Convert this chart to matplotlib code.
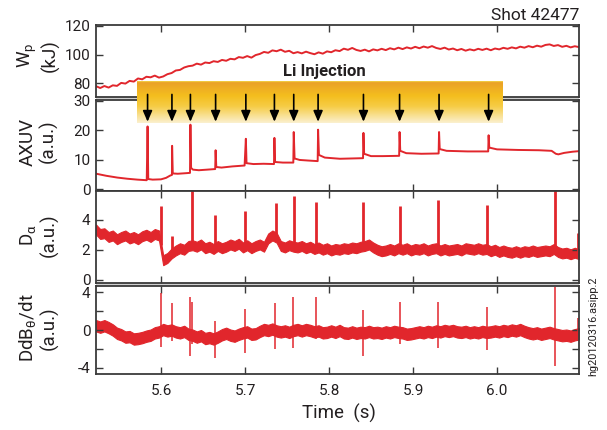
import matplotlib
matplotlib.use("Agg")
import matplotlib.pyplot as plt
import numpy as np
from matplotlib.colors import LinearSegmentedColormap
from matplotlib.patches import Rectangle

plt.rcParams["font.family"] = ["Roboto", "DejaVu Sans"]
plt.rcParams["mathtext.default"] = "regular"

# time window of the traces (s)
T_START, T_END = 5.5226, 6.0976

# stored energy, sampled every 5 ms
WP = [77.8, 76.5, 77.9, 76.8, 78.4, 78.0, 80.1, 79.6, 81.5, 81.0,
      83.2, 82.6, 84.4, 84.0, 85.2, 83.8, 84.6, 86.2, 87.0, 88.8,
      89.2, 90.9, 91.8, 92.2, 93.6, 92.9, 94.4, 94.0, 95.3, 94.8,
      96.2, 95.6, 97.0, 96.6, 98.2, 97.7, 98.9, 97.8, 99.6, 100.4,
      101.8, 101.2, 102.9, 102.3, 103.4, 101.9, 102.6, 100.9, 101.7, 100.8,
      102.0, 101.0, 100.2, 101.5, 100.6, 102.2, 101.6, 103.0, 102.4, 104.1,
      103.3, 104.6, 103.2, 102.5, 103.4, 102.2, 103.6, 102.9, 104.0, 103.1,
      104.4, 103.6, 104.8, 103.8, 105.0, 104.2, 105.4, 104.4, 105.6, 104.8,
      105.9, 104.6, 103.9, 104.8, 103.5, 104.2, 103.0, 103.9, 102.7, 103.6,
      102.9, 104.0, 103.2, 104.1, 103.0, 104.2, 103.6, 104.7, 104.0, 105.0,
      104.3, 105.5, 104.8, 105.9, 105.1, 106.2, 105.5, 106.7, 107.1, 106.0,
      106.6, 105.4, 106.1, 105.0, 105.8, 105.2]

# AXUV radiation (a.u.), read point by point incl. the spikes
AXUV_T = [5.523, 5.535, 5.548, 5.560, 5.572, 5.583, 5.5840, 5.5848, 5.590, 5.600,
          5.606, 5.611, 5.6130, 5.6132, 5.6140, 5.620, 5.630, 5.6345, 5.6350, 5.6358,
          5.638, 5.645, 5.655, 5.6645, 5.6650, 5.6658, 5.672, 5.685, 5.6995, 5.7010,
          5.7018, 5.710, 5.722, 5.7345, 5.7350, 5.7358, 5.745, 5.7575, 5.7580, 5.7590,
          5.765, 5.775, 5.7865, 5.7870, 5.7880, 5.795, 5.813, 5.8405, 5.8410, 5.8418,
          5.850, 5.864, 5.8835, 5.8840, 5.8848, 5.892, 5.910, 5.9305, 5.9310, 5.9318,
          5.940, 5.965, 5.9895, 5.9900, 5.9908, 6.000, 6.025, 6.050, 6.065, 6.070,
          6.073, 6.080, 6.090, 6.098]
AXUV = [5.2, 4.5, 3.9, 3.5, 3.2, 3.0, 21.3, 3.4, 3.2, 3.3,
        3.8, 4.6, 4.8, 14.7, 5.3, 5.2, 5.4, 5.5, 21.9, 7.2,
        6.6, 6.4, 6.6, 6.8, 13.2, 7.5, 7.3, 7.7, 8.0, 17.1,
        8.8, 8.5, 8.6, 8.5, 17.4, 9.2, 9.0, 9.0, 19.4, 10.4,
        9.9, 9.7, 9.5, 20.2, 11.6, 10.7, 10.3, 10.5, 19.1, 12.0,
        11.2, 11.2, 11.3, 19.4, 13.0, 12.2, 12.0, 12.1, 19.4, 13.6,
        13.0, 12.8, 12.8, 18.3, 14.1, 13.5, 13.3, 13.2, 13.0, 12.0,
        11.8, 12.3, 12.7, 12.9]

# D-alpha: centre of the noisy band every 5 ms, plus the ELM-like spikes
DALPHA = [3.35, 3.05, 3.10, 2.85, 2.95, 2.70, 2.85, 2.95, 2.75, 2.85,
          2.70, 2.90, 3.00, 2.85, 3.05, 2.95, 1.30, 1.45, 1.75, 1.95,
          2.10, 2.00, 2.25, 2.30, 2.20, 2.35, 2.10, 2.20, 2.05, 2.25,
          2.10, 2.20, 2.35, 2.25, 2.40, 2.15, 2.30, 2.10, 2.25, 2.35,
          2.20, 2.75, 2.95, 2.80, 2.25, 2.15, 2.30, 2.20, 2.15, 2.25,
          2.10, 2.20, 2.05, 2.15, 2.00, 2.10, 1.95, 2.05, 2.00, 2.10,
          2.05, 2.15, 2.10, 2.20, 2.25, 2.35, 2.15, 2.00, 1.90, 1.95,
          2.05, 1.95, 2.10, 2.00, 2.10, 1.95, 2.05, 2.00, 2.10, 1.95,
          2.05, 2.10, 1.95, 2.05, 1.95, 2.00, 2.05, 1.95, 2.10, 2.05,
          2.00, 2.10, 2.00, 2.05, 1.90, 2.00, 1.85, 1.95, 1.85, 1.80,
          1.90, 1.80, 1.90, 1.85, 1.95, 1.85, 1.90, 1.95, 1.90, 2.05,
          1.85, 1.75, 1.80, 1.70, 1.80, 1.70]
DALPHA_NOISE = 0.33
DALPHA_SPIKE_T = [5.5995, 5.6135, 5.6365, 5.6645, 5.7005, 5.7365, 5.7580,
                  5.7850, 5.8400, 5.8850, 5.9300, 5.9880, 6.0690, 6.0970]
DALPHA_SPIKE = [4.9, 2.9, 6.0, 4.33, 4.56, 5.1, 5.56,
                5.2, 5.2, 4.9, 5.33, 5.0, 6.0, 3.1]

# D dB_theta/dt: band centre every 5 ms, plus spikes (up / down extremes)
DBDT = [0.45, 0.30, 0.45, 0.25, 0.00, -0.35, -0.50, -0.75, -0.70, -0.95,
        -0.90, -0.80, -0.65, -0.55, -0.30, -0.20, 0.05, -0.10, 0.00, -0.20,
        -0.30, -0.15, -0.45, -0.55, -0.75, -0.60, -0.90, -0.80, -0.95, -0.75,
        -0.50, -0.35, -0.55, -0.65, -0.45, -0.30, -0.20, -0.45, -0.40, -0.15,
        0.05, -0.05, 0.10, -0.10, -0.20, -0.10, -0.25, -0.05, 0.05, -0.10,
        0.05, -0.05, -0.20, -0.10, -0.30, -0.25, -0.10, -0.25, -0.05, -0.30,
        -0.35, -0.20, -0.35, -0.25, -0.30, -0.15, -0.30, -0.25, -0.35, -0.20,
        -0.30, -0.15, -0.25, -0.30, -0.45, -0.40, -0.30, -0.20, -0.30, -0.15,
        -0.25, -0.10, -0.20, -0.05, -0.15, -0.05, -0.20, -0.25, -0.15, -0.30,
        -0.20, -0.30, -0.15, -0.25, -0.20, -0.10, -0.20, -0.05, -0.15, 0.00,
        -0.10, 0.05, -0.15, -0.30, -0.40, -0.30, -0.45, -0.35, -0.25, -0.40,
        -0.50, -0.60, -0.55, -0.65, -0.50, -0.40]
DBDT_NOISE = 0.6
DBDT_SPIKE_T = [5.5995, 5.6125, 5.6340, 5.6365, 5.6645, 5.7005, 5.7360,
                5.7575, 5.7850, 5.8400, 5.8850, 5.9295, 5.9880, 6.0690, 6.0970]
DBDT_UP = [3.86, 2.81, 3.44, 3.0, 1.0, 2.18, 2.88,
           3.44, 3.5, 2.11, 2.98, 2.98, 2.39, 4.5, 1.23]
DBDT_DOWN = [-1.75, -1.2, -2.8, -1.5, -3.0, -2.45, -2.0,
             -1.92, -1.0, -2.8, -1.5, -1.9, -2.1, -3.85, -1.0]

# Li injection times (arrows) and the shaded injection window
INJECT_T = [5.584, 5.613, 5.635, 5.665, 5.701, 5.735, 5.758,
            5.787, 5.841, 5.884, 5.931, 5.990]
INJECT_WINDOW = (5.5714, 6.006)

RED = "#E1262C"
FRAME = "#3a3a3a"
GAP = "#cfcfcf"

W, H = 607, 430
X0, X1 = 96, 579


def frac_rect(top, bottom):
    return [X0 / W, 1 - bottom / H, (X1 - X0) / W, (bottom - top) / H]


fig = plt.figure(figsize=(W / 100, H / 100), dpi=100)

# light grey strips between the double-lined panels
for top, bottom in [(97, 100), (283, 286)]:
    fig.add_artist(Rectangle((X0 / W, 1 - bottom / H), (X1 - X0) / W, (bottom - top) / H,
                             transform=fig.transFigure, facecolor=GAP, edgecolor="none", zorder=0))

ax_wp = fig.add_axes(frac_rect(25, 97))
ax_ax = fig.add_axes(frac_rect(100, 190.5))
ax_da = fig.add_axes(frac_rect(190.5, 283))
ax_db = fig.add_axes(frac_rect(286, 374))
axes = [ax_wp, ax_ax, ax_da, ax_db]

t_wp = np.linspace(T_START, T_END, len(WP))
ax_wp.plot(t_wp, WP, color=RED, lw=1.4)

ax_ax.plot(AXUV_T, AXUV, color=RED, lw=1.4)

t_da = np.linspace(T_START, T_END, len(DALPHA))
da = np.array(DALPHA)
ax_da.fill_between(t_da, da - DALPHA_NOISE, da + DALPHA_NOISE, color=RED, lw=0.8, edgecolor=RED)
ax_da.vlines(DALPHA_SPIKE_T, np.interp(DALPHA_SPIKE_T, t_da, da), DALPHA_SPIKE, color=RED, lw=2.0)

t_db = np.linspace(T_START, T_END, len(DBDT))
db = np.array(DBDT)
ax_db.fill_between(t_db, db - DBDT_NOISE, db + DBDT_NOISE, color=RED, lw=0.8, edgecolor=RED)
ax_db.vlines(DBDT_SPIKE_T, DBDT_DOWN, DBDT_UP, color=RED, lw=1.1)

settings = [
    (ax_wp, (70.2, 120.7), [80, 100, 120], None, "W$_p$\n(kJ)", 0.58),
    (ax_ax, (-0.5, 30.3), [0, 10, 20, 30], None, "AXUV\n(a.u.)", 0.54),
    (ax_da, (-0.22, 5.95), [0, 2, 4], None, "D$_α$\n(a.u.)", 0.52),
    (ax_db, (-4.65, 4.65), [-4, -2, 0, 2, 4], ["-4", "", "0", "", "4"],
     "DdB$_θ$/dt\n(a.u.)", 0.52),
]
for ax, ylim, yticks, ylabels, label, ly in settings:
    ax.set_xlim(T_START, T_END)
    ax.set_ylim(*ylim)
    ax.set_yticks(yticks)
    if ylabels is not None:
        ax.set_yticklabels(ylabels)
    ax.set_xticks([5.6, 5.7, 5.8, 5.9, 6.0])
    ax.tick_params(direction="in", top=True, right=True, length=5, width=1.0,
                   color=FRAME, labelsize=11, pad=4, labelcolor="#231f20")
    for sp in ax.spines.values():
        sp.set_color(FRAME)
        sp.set_linewidth(1.3)
    ax.set_ylabel(label, fontsize=13.5, color="#231f20", linespacing=1.1)
    ax.yaxis.label.set_verticalalignment("center")
    ax.yaxis.set_label_coords(-0.12, ly)
    if ax is not ax_db:
        ax.tick_params(labelbottom=False)
ax_db.tick_params(axis="x", pad=7)

# overlay with the Li injection band and arrows
ov = fig.add_axes([X0 / W, 1 - 123 / H, (X1 - X0) / W, 42 / H])
ov.set_xlim(T_START, T_END)
ov.set_ylim(0, 1)
ov.axis("off")
band = LinearSegmentedColormap.from_list(
    "li", [(0.0, "#fbf0cf"), (0.4, "#f6cc45"), (0.65, "#f4be1e"), (0.97, "#eaa128"), (1.0, "#f3d84a")])
ov.imshow(np.linspace(0, 1, 200).reshape(-1, 1), cmap=band, origin="lower", aspect="auto",
          extent=[INJECT_WINDOW[0], INJECT_WINDOW[1], 0, 1], zorder=1)
for t in INJECT_T:
    ov.annotate("", xy=(t, 0.03), xytext=(t, 0.68),
                arrowprops=dict(arrowstyle="-|>,head_width=0.28,head_length=0.65",
                                color="black", lw=1.2, shrinkA=0, shrinkB=0), zorder=3)
ov.text(5.794, 1.22, "Li Injection", ha="center", va="center", fontsize=12,
        fontweight="bold", color="#231f20", clip_on=False)

fig.text(X1 / W, 1 - 15 / H, "Shot 42477", ha="right", va="center", fontsize=12.5, color="#231f20")
fig.text(339 / W, 1 - 413 / H, "Time  (s)", ha="center", va="center", fontsize=13.5, color="#231f20")
fig.text(593 / W, 1 - 326 / H, "hg20120316.asipp.2", rotation=90, ha="center", va="center",
         fontsize=7.8, color="#231f20")

fig.savefig("out.png", dpi=100)
